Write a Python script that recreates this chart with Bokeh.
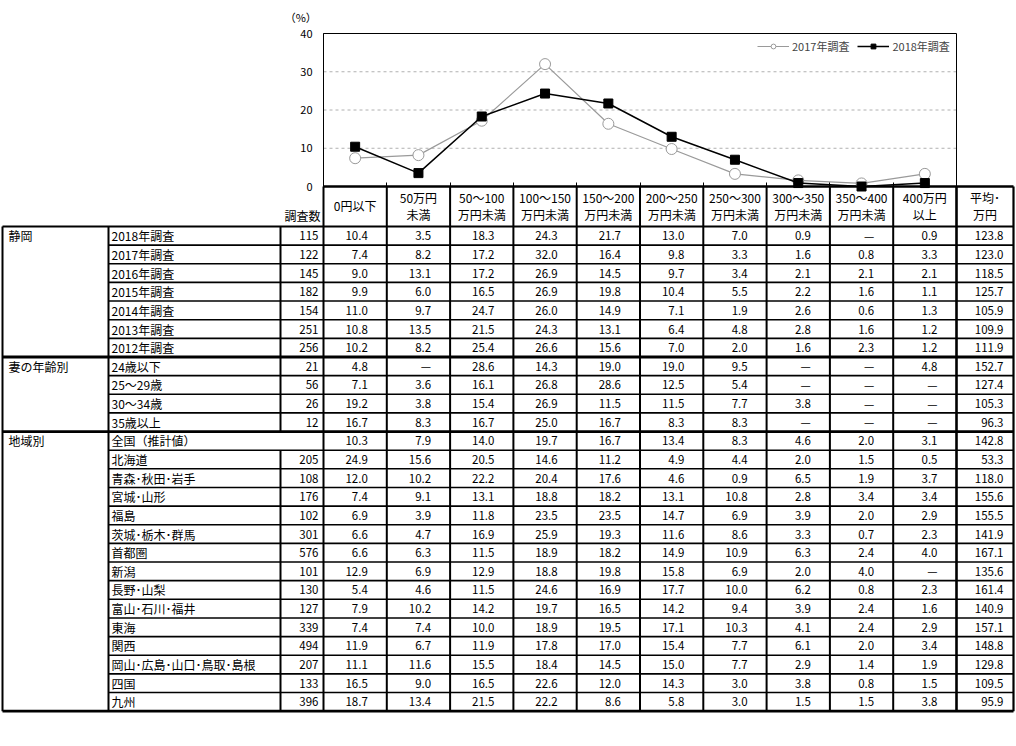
from bokeh.plotting import figure
from bokeh.models import Range1d, FixedTicker, Legend, LegendItem, LinearAxis
from bokeh.core.properties import value
from bokeh.embed import file_html
from bokeh.resources import INLINE

FONT = "Noto Sans CJK JP"

# ---------------- data ----------------
categories = ["0円以下", "50万円未満", "50～100万円未満", "100～150万円未満", "150～200万円未満",
              "200～250万円未満", "250～300万円未満", "300～350万円未満", "350～400万円未満", "400万円以上"]
header_top = ["0円以下", "50万円", "50～100", "100～150", "150～200", "200～250",
              "250～300", "300～350", "350～400", "400万円", "平均･"]
header_bottom = ["", "未満", "万円未満", "万円未満", "万円未満", "万円未満",
                 "万円未満", "万円未満", "万円未満", "以上", "万円"]
y_ticks = [0, 10, 20, 30, 40]

survey_2018 = [10.4, 3.5, 18.3, 24.3, 21.7, 13.0, 7.0, 0.9, None, 0.9]
survey_2017 = [7.4, 8.2, 17.2, 32.0, 16.4, 9.8, 3.3, 1.6, 0.8, 3.3]

group_names = ["静岡", "妻の年齢別", "地域別"]
group_sizes = [7, 4, 15]

row_labels = ["2018年調査", "2017年調査", "2016年調査", "2015年調査", "2014年調査", "2013年調査", "2012年調査",
              "24歳以下", "25～29歳", "30～34歳", "35歳以上",
              "全国（推計値）", "北海道", "青森･秋田･岩手", "宮城･山形", "福島", "茨城･栃木･群馬", "首都圏",
              "新潟", "長野･山梨", "富山･石川･福井", "東海", "関西", "岡山･広島･山口･鳥取･島根", "四国", "九州"]
row_counts = [115, 122, 145, 182, 154, 251, 256,
              21, 56, 26, 12,
              None, 205, 108, 176, 102, 301, 576, 101, 130, 127, 339, 494, 207, 133, 396]
row_values = [
    survey_2018,
    survey_2017,
    [9.0, 13.1, 17.2, 26.9, 14.5, 9.7, 3.4, 2.1, 2.1, 2.1],
    [9.9, 6.0, 16.5, 26.9, 19.8, 10.4, 5.5, 2.2, 1.6, 1.1],
    [11.0, 9.7, 24.7, 26.0, 14.9, 7.1, 1.9, 2.6, 0.6, 1.3],
    [10.8, 13.5, 21.5, 24.3, 13.1, 6.4, 4.8, 2.8, 1.6, 1.2],
    [10.2, 8.2, 25.4, 26.6, 15.6, 7.0, 2.0, 1.6, 2.3, 1.2],
    [4.8, None, 28.6, 14.3, 19.0, 19.0, 9.5, None, None, 4.8],
    [7.1, 3.6, 16.1, 26.8, 28.6, 12.5, 5.4, None, None, None],
    [19.2, 3.8, 15.4, 26.9, 11.5, 11.5, 7.7, 3.8, None, None],
    [16.7, 8.3, 16.7, 25.0, 16.7, 8.3, 8.3, None, None, None],
    [10.3, 7.9, 14.0, 19.7, 16.7, 13.4, 8.3, 4.6, 2.0, 3.1],
    [24.9, 15.6, 20.5, 14.6, 11.2, 4.9, 4.4, 2.0, 1.5, 0.5],
    [12.0, 10.2, 22.2, 20.4, 17.6, 4.6, 0.9, 6.5, 1.9, 3.7],
    [7.4, 9.1, 13.1, 18.8, 18.2, 13.1, 10.8, 2.8, 3.4, 3.4],
    [6.9, 3.9, 11.8, 23.5, 23.5, 14.7, 6.9, 3.9, 2.0, 2.9],
    [6.6, 4.7, 16.9, 25.9, 19.3, 11.6, 8.6, 3.3, 0.7, 2.3],
    [6.6, 6.3, 11.5, 18.9, 18.2, 14.9, 10.9, 6.3, 2.4, 4.0],
    [12.9, 6.9, 12.9, 18.8, 19.8, 15.8, 6.9, 2.0, 4.0, None],
    [5.4, 4.6, 11.5, 24.6, 16.9, 17.7, 10.0, 6.2, 0.8, 2.3],
    [7.9, 10.2, 14.2, 19.7, 16.5, 14.2, 9.4, 3.9, 2.4, 1.6],
    [7.4, 7.4, 10.0, 18.9, 19.5, 17.1, 10.3, 4.1, 2.4, 2.9],
    [11.9, 6.7, 11.9, 17.8, 17.0, 15.4, 7.7, 6.1, 2.0, 3.4],
    [11.1, 11.6, 15.5, 18.4, 14.5, 15.0, 7.7, 2.9, 1.4, 1.9],
    [16.5, 9.0, 16.5, 22.6, 12.0, 14.3, 3.0, 3.8, 0.8, 1.5],
    [18.7, 13.4, 21.5, 22.2, 8.6, 5.8, 3.0, 1.5, 1.5, 3.8],
]
row_avg = [123.8, 123.0, 118.5, 125.7, 105.9, 109.9, 111.9,
           152.7, 127.4, 105.3, 96.3,
           142.8, 53.3, 118.0, 155.6, 155.5, 141.9, 167.1, 135.6, 161.4, 140.9, 157.1, 148.8, 129.8, 109.5, 95.9]

# ---------------- layout constants (pixels) ----------------
W, H = 1016, 720
NCAT = len(categories)
FRAME_L = 323          # chart left edge / first value column
COL_W = 63.3           # width of one category column
CH_TOP, CH_BOT = 33, 186   # chart top/bottom (pixels from top)
PX_PER_PCT = (CH_BOT - CH_TOP) / 40.0

p = figure(width=W, height=H, x_range=Range1d(0, W), y_range=Range1d(H, 0),
           output_backend="svg", toolbar_location=None, min_border=0,
           x_axis_location=None, y_axis_location=None)
p.grid.visible = False
p.outline_line_color = None

# chart coordinate system (category units / percent), mapped onto the same canvas
p.extra_x_ranges = {"cat": Range1d(-FRAME_L / COL_W, (W - FRAME_L) / COL_W)}
p.extra_y_ranges = {"pct": Range1d(-(H - CH_BOT) / PX_PER_PCT, 40 + CH_TOP / PX_PER_PCT)}

# ---------------- table ----------------
LEFT = 2
GROUP_R = 108
LABEL_R = 280
COUNT_R = FRAME_L
AVG_R = 1013
TOP = CH_BOT
HEADER_B = TOP + 40
ROW_H = 18.64
nrows = len(row_labels)
col_edges = [COUNT_R + COL_W * k for k in range(NCAT + 1)]
TABLE_B = HEADER_B + ROW_H * nrows

def seg(x0, y0, x1, y1, w):
    p.segment(x0=x0, y0=y0, x1=x1, y1=y1, line_color="black", line_width=w)

seg([COUNT_R], [TOP], [AVG_R], [TOP], 2.4)
seg([LEFT], [HEADER_B], [AVG_R], [HEADER_B], 2.2)
seg(col_edges[:-1], [TOP] * NCAT, col_edges[:-1], [TABLE_B] * NCAT, 2)
seg([col_edges[-1]], [TOP], [col_edges[-1]], [TABLE_B], 2.6)
seg([AVG_R], [TOP], [AVG_R], [TABLE_B], 2.2)
seg([LEFT, GROUP_R], [HEADER_B] * 2, [LEFT, GROUP_R], [TABLE_B] * 2, 2)

group_ends = []
acc = 0
for g in group_sizes:
    acc += g
    group_ends.append(acc)
x0s, ys = [], []
gx0, gys = [], []
for r in range(1, nrows + 1):
    y = HEADER_B + ROW_H * r
    if r in group_ends:
        gx0.append(LEFT); gys.append(y)
    else:
        x0s.append(GROUP_R); ys.append(y)
seg(x0s, ys, [AVG_R] * len(ys), ys, 1.6)
seg(gx0, gys, [AVG_R] * len(gys), gys, 2.8)

vx, vy0, vy1 = [], [], []
for r in range(nrows):
    if row_counts[r] is not None:
        vx.append(LABEL_R)
        vy0.append(HEADER_B + ROW_H * r)
        vy1.append(HEADER_B + ROW_H * (r + 1))
seg(vx, vy0, vx, vy1, 2)

def txt(x, y, t, align, size="12px", **kw):
    p.text(x=x, y=y, text=t, text_align=align, text_baseline="middle",
           text_font=value(FONT), text_font_size=size, text_color="black", **kw)

centers = [COUNT_R + COL_W * (k + 0.5) for k in range(NCAT)] + [(col_edges[-1] + AVG_R) / 2]
one_x = [c for c, b in zip(centers, header_bottom) if b == ""]
one_t = [t for t, b in zip(header_top, header_bottom) if b == ""]
two_x = [c for c, b in zip(centers, header_bottom) if b != ""]
two_t1 = [t for t, b in zip(header_top, header_bottom) if b != ""]
two_t2 = [b for b in header_bottom if b != ""]
txt(one_x, [TOP + 19] * len(one_x), one_t, "center")
txt(two_x, [TOP + 11] * len(two_x), two_t1, "center")
txt(two_x, [TOP + 28] * len(two_x), two_t2, "center")
txt([COUNT_R - 3], [TOP + 29], ["調査数"], "right")

gnx, gny = [], []
start = 0
for g in group_sizes:
    gnx.append(LEFT + 6)
    gny.append(HEADER_B + ROW_H * (start + 0.5))
    start += g
txt(gnx, gny, group_names, "left")

row_y = [HEADER_B + ROW_H * (r + 0.5) for r in range(nrows)]
txt([GROUP_R + 3] * nrows, row_y, row_labels, "left")

cx = [COUNT_R - 5 for r in range(nrows) if row_counts[r] is not None]
cy = [row_y[r] for r in range(nrows) if row_counts[r] is not None]
ct = [str(row_counts[r]) for r in range(nrows) if row_counts[r] is not None]
txt(cx, cy, ct, "right", "11.5px")

tx, ty, tt = [], [], []
for r in range(nrows):
    for k, v in enumerate(row_values[r]):
        tx.append(col_edges[k + 1] - 19)
        ty.append(row_y[r])
        tt.append("—" if v is None else f"{v:.1f}")
txt(tx, ty, tt, "right", "11.5px")
txt([AVG_R - 10] * nrows, row_y, [f"{v:.1f}" for v in row_avg], "right", "11.5px")

# ---------------- chart ----------------
CR = dict(x_range_name="cat", y_range_name="pct")
grid_ticks = y_ticks[1:-1]
p.segment(x0=[0] * len(grid_ticks), y0=grid_ticks, x1=[NCAT] * len(grid_ticks), y1=grid_ticks,
          line_color="#b0b0b0", line_dash="3 3", line_width=1, **CR)
p.quad(left=[0], right=[NCAT], bottom=[0], top=[y_ticks[-1]], fill_alpha=0,
       line_color="black", line_width=1, **CR)

yax = LinearAxis(fixed_location=0, ticker=FixedTicker(ticks=y_ticks), bounds=(0, 40), **CR)
yax.axis_line_color = "black"
yax.major_tick_in = 0
yax.major_tick_out = 0
yax.minor_tick_line_color = None
yax.major_label_standoff = 11
yax.major_label_text_font = FONT
yax.major_label_text_font_size = "11px"
yax.major_label_text_color = "black"
p.add_layout(yax, "left")

xax = LinearAxis(fixed_location=0, ticker=FixedTicker(ticks=[], minor_ticks=list(range(1, NCAT))), **CR)
xax.axis_line_color = None
xax.major_tick_in = 0
xax.major_tick_out = 0
xax.minor_tick_in = 4
xax.minor_tick_out = 0
xax.minor_tick_line_color = "black"
xax.major_label_text_font_size = "0px"
p.add_layout(xax, "below")

xs = [i + 0.5 for i in range(NCAT)]
y18 = [v if v is not None else 0 for v in survey_2018]
r17l = p.line(xs, survey_2017, line_color="#9a9a9a", line_width=1.2, **CR)
r17s = p.scatter(xs, survey_2017, marker="circle", size=11, fill_color="white",
                 line_color="#9a9a9a", line_width=1, **CR)
r18l = p.line(xs, y18, line_color="black", line_width=1.5, **CR)
r18s = p.scatter(xs, y18, marker="square", size=9, fill_color="black", line_color="black", **CR)

legend = Legend(items=[LegendItem(label="2017年調査", renderers=[r17l, r17s]),
                       LegendItem(label="2018年調査", renderers=[r18l, r18s])],
                location=(755, H - 56), orientation="horizontal",
                margin=0, padding=2, spacing=8, glyph_width=32, glyph_height=12,
                label_standoff=3, label_text_font=FONT, label_text_font_size="11px",
                background_fill_alpha=0, border_line_alpha=0)
p.add_layout(legend)

p.text(x=[-0.36], y=[44.2], text=["（%）"], text_align="center", text_baseline="middle",
       text_font=value(FONT), text_font_size="11px", text_color="black", **CR)

open("out.html", "w").write(file_html(p, INLINE))
